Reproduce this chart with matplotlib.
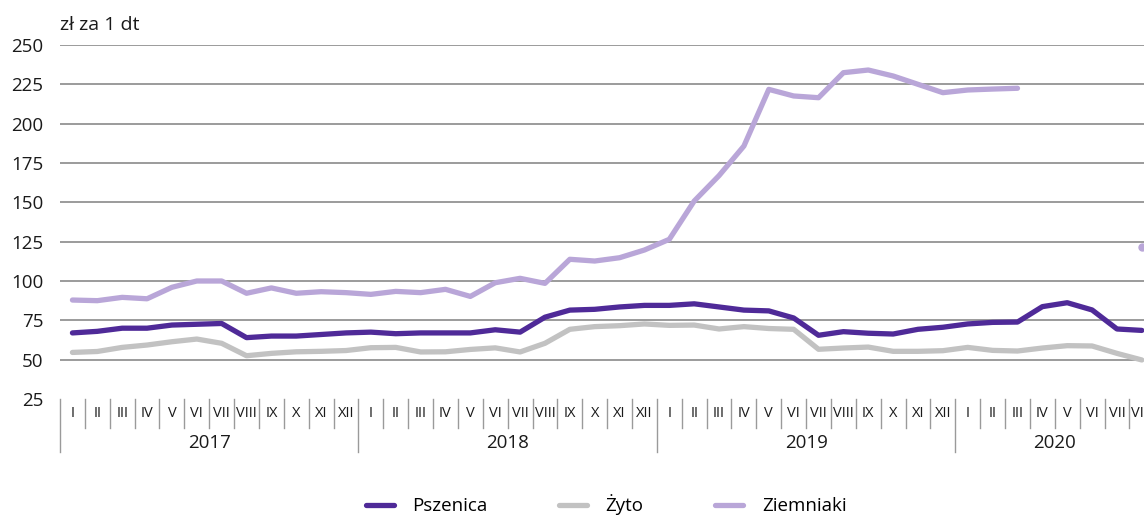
import matplotlib.pyplot as plt
import numpy as np

plt.rcParams['font.family'] = ['Open Sans', 'DejaVu Sans']

# data (zł za 1 dt), monthly from I 2017 to VIII 2020
years = ['2017', '2018', '2019', '2020']
months = ['I', 'II', 'III', 'IV', 'V', 'VI', 'VII', 'VIII', 'IX', 'X', 'XI', 'XII']

pszenica = [67, 68, 70, 70, 72, 72.5, 73, 64, 65, 65, 66, 67,
            67.5, 66.5, 67, 67, 67, 69, 67.5, 77, 81.5, 82, 83.5, 84.5,
            84.5, 85.5, 83.5, 81.5, 81, 76.5, 65.5, 67.8, 66.8, 66.3, 69.3, 70.6,
            72.7, 73.7, 73.9, 83.7, 86.2, 81.6, 69.5, 68.6]
zyto = [54.6, 55.2, 57.8, 59.3, 61.4, 63.1, 60.4, 52.5, 54, 55, 55.3, 55.8,
        57.6, 57.8, 54.9, 55, 56.5, 57.5, 54.9, 60.4, 69.3, 71, 71.6, 72.7,
        71.8, 72, 69.5, 71, 69.8, 69.3, 56.6, 57.4, 58, 55.3, 55.3, 55.7,
        57.8, 55.9, 55.5, 57.4, 58.9, 58.7, 54, 49.8]
ziemniaki = [87.9, 87.5, 89.6, 88.7, 96, 100, 100, 92.2, 95.6, 92.2, 93.2, 92.6,
             91.5, 93.4, 92.6, 94.7, 90.2, 98.9, 101.7, 98.5, 113.8, 112.7, 114.8, 119.7,
             126.5, 150.8, 167, 185.8, 221.8, 217.6, 216.5, 232.4, 234.1, 230.3, 225, 219.7,
             221.4, 222, 222.5, np.nan, np.nan, np.nan, np.nan, 121.8]

n = len(pszenica)
x = np.arange(n)

W, H = 1144, 515
fig = plt.figure(figsize=(W / 100, H / 100), dpi=100, facecolor='white')
# axes extends past the right edge (chart is cut in the reference)
ax = fig.add_axes([60 / W, (H - 399) / H, (24.87 * n) / W, 354 / H])
ax.set_xlim(-0.5, n - 0.5)
ax.set_ylim(25, 250)

ax.set_yticks(np.arange(25, 251, 25))
ax.tick_params(axis='y', length=0, pad=12, labelsize=13.5, labelcolor='#1a1a1a')
ax.tick_params(axis='x', bottom=False, labelbottom=False)
for s in ax.spines.values():
    s.set_visible(False)
for v in np.arange(50, 251, 25):
    ax.axhline(v, color='#808080', lw=1.1, zorder=1)

ax.plot(x, zyto, color='#c2c2c2', lw=3.8, solid_capstyle='round', solid_joinstyle='round', zorder=3, label='Żyto')
ax.plot(x, ziemniaki, color='#b9a6d8', lw=3.8, solid_capstyle='round', solid_joinstyle='round', zorder=3, label='Ziemniaki')
ax.plot(x, pszenica, color='#4f2a98', lw=3.8, solid_capstyle='round', solid_joinstyle='round', zorder=4, label='Pszenica')
# isolated last point of Ziemniaki
ax.plot(x[-1], ziemniaki[-1], 'o', color='#b9a6d8', ms=5, zorder=3, clip_on=False)

# category axis: months and years
tr = ax.get_xaxis_transform()
sep = '#9a9a9a'
for i in range(n):
    ax.text(i, -0.04, months[i % 12], transform=tr, ha='center', va='center',
            fontsize=10.5, color='#1a1a1a', clip_on=False)
    if i % 12 == 0:
        ax.plot([i - 0.5, i - 0.5], [0, -0.15], transform=tr, color=sep, lw=1, clip_on=False)
    else:
        ax.plot([i - 0.5, i - 0.5], [0, -0.082], transform=tr, color=sep, lw=1, clip_on=False)
for k, yr in enumerate(years):
    start = k * 12
    end = min(start + 12, n)
    ax.text((start + end - 1) / 2, -0.124, yr,
            transform=tr, ha='center', va='center', fontsize=13.5, color='#1a1a1a', clip_on=False)

fig.text(60 / W, 1 - 25 / H, 'zł za 1 dt', ha='left', va='center', fontsize=14, color='#1a1a1a')

h, l = ax.get_legend_handles_labels()
order = [2, 0, 1]
fig.legend([h[i] for i in order], [l[i] for i in order], loc='center', bbox_to_anchor=(606 / W, 1 - 505 / H),
           ncol=3, frameon=False, fontsize=13.5, handlelength=1.5, handletextpad=1.0, columnspacing=3.8)

fig.savefig('out.png', dpi=100, facecolor='white')
